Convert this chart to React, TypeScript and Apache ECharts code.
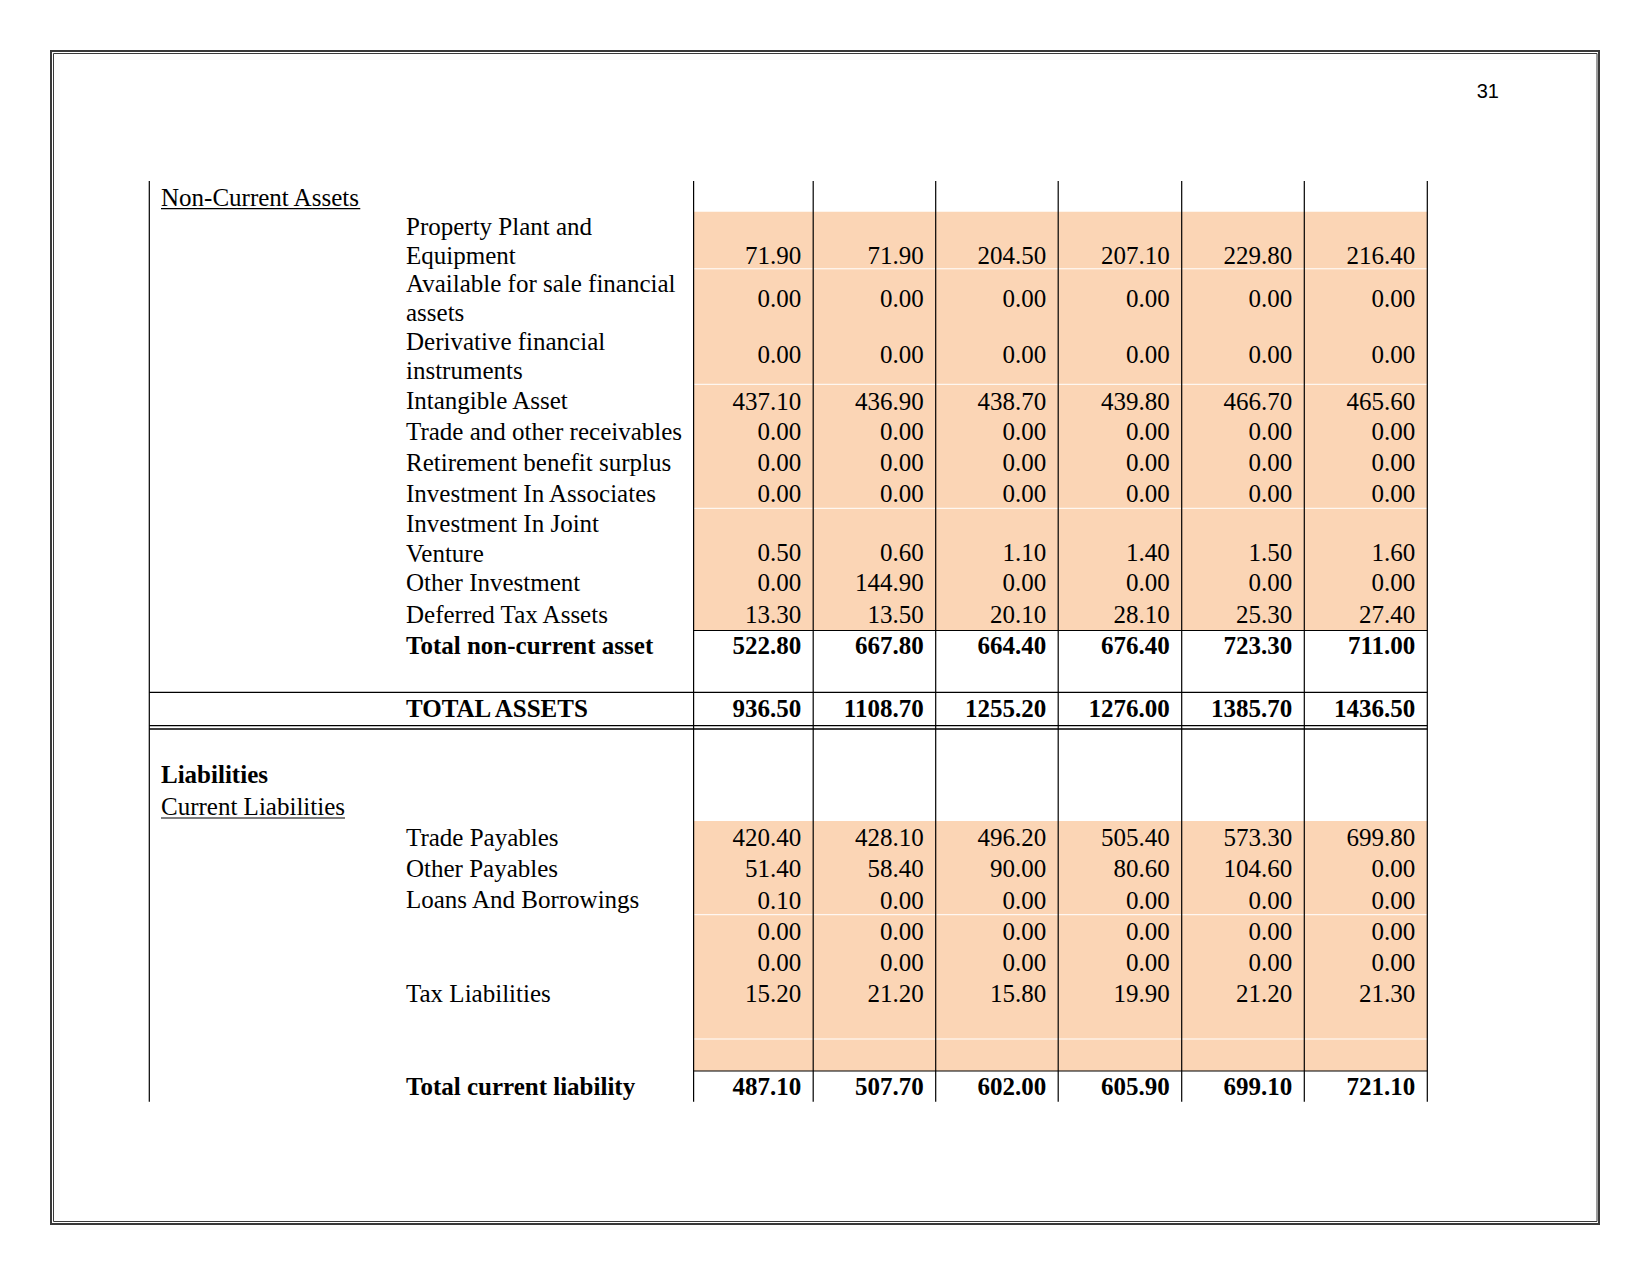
import React, { useEffect, useRef } from "react";
import * as echarts from "echarts";

const W = 1650;
const H = 1275;

// ---------------- data ----------------
const propertyPlant = [71.9, 71.9, 204.5, 207.1, 229.8, 216.4];
const availableForSale = [0, 0, 0, 0, 0, 0];
const derivativeInstruments = [0, 0, 0, 0, 0, 0];
const intangibleAsset = [437.1, 436.9, 438.7, 439.8, 466.7, 465.6];
const tradeReceivables = [0, 0, 0, 0, 0, 0];
const retirementSurplus = [0, 0, 0, 0, 0, 0];
const investAssociates = [0, 0, 0, 0, 0, 0];
const investJointVenture = [0.5, 0.6, 1.1, 1.4, 1.5, 1.6];
const otherInvestment = [0, 144.9, 0, 0, 0, 0];
const deferredTaxAssets = [13.3, 13.5, 20.1, 28.1, 25.3, 27.4];
const totalNonCurrent = [522.8, 667.8, 664.4, 676.4, 723.3, 711.0];
const totalAssets = [936.5, 1108.7, 1255.2, 1276.0, 1385.7, 1436.5];
const tradePayables = [420.4, 428.1, 496.2, 505.4, 573.3, 699.8];
const otherPayables = [51.4, 58.4, 90.0, 80.6, 104.6, 0];
const loansBorrowings = [0.1, 0, 0, 0, 0, 0];
const unnamedLine1 = [0, 0, 0, 0, 0, 0];
const unnamedLine2 = [0, 0, 0, 0, 0, 0];
const taxLiabilities = [15.2, 21.2, 15.8, 19.9, 21.2, 21.3];
const totalCurrentLiab = [487.1, 507.7, 602.0, 605.9, 699.1, 721.1];

const rowLabels: string[][] = [
  ["Property Plant and", "Equipment"],
  ["Available for sale financial", "assets"],
  ["Derivative financial", "instruments"],
  ["Intangible Asset"],
  ["Trade and other receivables"],
  ["Retirement benefit surplus"],
  ["Investment In Associates"],
  ["Investment In Joint", "Venture"],
  ["Other Investment"],
  ["Deferred Tax Assets"],
  ["Total non-current asset"],
  ["TOTAL ASSETS"],
  ["Trade Payables"],
  ["Other Payables"],
  ["Loans And Borrowings"],
  [],
  [],
  ["Tax Liabilities"],
  ["Total current liability"],
];
const rowValues: number[][] = [
  propertyPlant, availableForSale, derivativeInstruments, intangibleAsset,
  tradeReceivables, retirementSurplus, investAssociates, investJointVenture,
  otherInvestment, deferredTaxAssets, totalNonCurrent, totalAssets,
  tradePayables, otherPayables, loansBorrowings, unnamedLine1, unnamedLine2,
  taxLiabilities, totalCurrentLiab,
];
const boldRows = ["Total non-current asset", "TOTAL ASSETS", "Total current liability"];
const sectionHeads = ["Non-Current Assets", "Liabilities", "Current Liabilities"];
const pageNumber = "31";

// ---------------- layout (positions only) ----------------
const COL_EDGES = [693.6, 813.2, 935.7, 1058.2, 1181.7, 1304.3, 1427.3];
const TABLE_LEFT = 149.3;
const TABLE_TOP = 181;
const TABLE_BOTTOM = 1101.7;
const VALUE_PAD = 12;
const LABEL_X = 406;
const HEAD_X = 161;
const rowLineBase: number[][] = [
  [235, 264], [292, 321], [350, 379], [408.5], [440], [471], [501.7],
  [531.7, 561.7], [590.5], [622.5], [653.5], [716.7], [845.5], [876.8], [908.3],
  [], [], [1001.5], [1095],
];
const rowValueBase = [
  264, 306.5, 363.3, 409.5, 439.8, 470.5, 501.7, 560.5, 591, 623, 653.5, 716.7,
  845.5, 877.3, 908.7, 939.5, 970.7, 1001.7, 1095,
];
const headBase = [205.7, 782.7, 815];
const headStyle = [
  { bold: false, underline: true },
  { bold: true, underline: false },
  { bold: false, underline: true },
];
const shadeBands = [
  [211.7, 630.5],
  [821, 1071],
];
const whiteSeps = [268.8, 384.3, 508.3, 914.7, 1039];

const FONT_FAMILY = "'Liberation Serif', 'Times New Roman', serif";
const FS = 25;
const CENTRAL = 8.4; // alphabetic baseline -> central baseline offset
const SHADE = "#FBD5B5";

function measure(text: string, bold: boolean) {
  const c = document.createElement("canvas").getContext("2d");
  if (!c) return text.length * 11;
  c.font = `${bold ? "bold " : ""}${FS}px ${FONT_FAMILY}`;
  return c.measureText(text).width;
}

export default function App() {
  const ref = useRef<HTMLDivElement>(null);
  useEffect(() => {
    if (!ref.current) return;
    const chart = echarts.init(ref.current, undefined, { renderer: "svg" });

    const cellData: number[][] = [];
    rowValues.forEach((vals, r) => vals.forEach((v, c) => cellData.push([c, r, v])));

    type LabelItem = { text: string; x: number; y: number; bold: boolean; underline: boolean };
    const labelItems: LabelItem[] = [];
    rowLabels.forEach((lines, r) =>
      lines.forEach((t, li) =>
        labelItems.push({ text: t, x: LABEL_X, y: rowLineBase[r][li], bold: boldRows.includes(t), underline: false })
      )
    );
    sectionHeads.forEach((t, i) =>
      labelItems.push({ text: t, x: HEAD_X, y: headBase[i], bold: headStyle[i].bold, underline: headStyle[i].underline })
    );

    const graphics: any[] = [];
    // page frame (double line)
    graphics.push({
      type: "rect", z: 1,
      shape: { x: 51, y: 51, width: 1548, height: 1173 },
      style: { fill: "none", stroke: "#3a3a3a", lineWidth: 2 },
    });
    graphics.push({
      type: "rect", z: 1,
      shape: { x: 53.5, y: 53.5, width: 1543.5, height: 1168 },
      style: { fill: "none", stroke: "#3a3a3a", lineWidth: 1 },
    });
    graphics.push({
      type: "text", z: 5, x: 1499, y: 97.5 - 7,
      style: { text: pageNumber, font: "20px 'Liberation Sans', Arial, sans-serif", fill: "#000", align: "right", verticalAlign: "middle" },
    });
    // shading
    shadeBands.forEach(([y0, y1]) =>
      graphics.push({
        type: "rect", z: 1,
        shape: { x: COL_EDGES[0], y: y0, width: COL_EDGES[COL_EDGES.length - 1] - COL_EDGES[0], height: y1 - y0 },
        style: { fill: SHADE },
      })
    );
    whiteSeps.forEach((y) =>
      graphics.push({
        type: "line", z: 2,
        shape: { x1: COL_EDGES[0], y1: y, x2: COL_EDGES[COL_EDGES.length - 1], y2: y },
        style: { stroke: "#ffffff", lineWidth: 1 },
      })
    );
    // vertical rules
    [TABLE_LEFT, ...COL_EDGES].forEach((x) =>
      graphics.push({
        type: "line", z: 3,
        shape: { x1: x, y1: TABLE_TOP, x2: x, y2: TABLE_BOTTOM },
        style: { stroke: "#000", lineWidth: 1.2 },
      })
    );
    const right = COL_EDGES[COL_EDGES.length - 1];
    const hRules = [
      { x1: COL_EDGES[0], y: 630.5, w: 1.2 },
      { x1: TABLE_LEFT, y: 692.3, w: 1.2 },
      { x1: TABLE_LEFT, y: 725.6, w: 1.4 },
      { x1: TABLE_LEFT, y: 729.0, w: 1.4 },
      { x1: COL_EDGES[0], y: 1071, w: 1.2 },
    ];
    hRules.forEach((h) =>
      graphics.push({
        type: "line", z: 3,
        shape: { x1: h.x1, y1: h.y, x2: right, y2: h.y },
        style: { stroke: "#000", lineWidth: h.w },
      })
    );

    chart.setOption({
      animation: false,
      backgroundColor: "#ffffff",
      grid: { left: 0, right: 0, top: 0, bottom: 0, containLabel: false },
      xAxis: { type: "value", min: 0, max: W, show: false },
      yAxis: { type: "value", min: 0, max: H, inverse: true, show: false },
      graphic: graphics,
      series: [
        {
          type: "custom",
          z: 10,
          silent: true,
          data: cellData,
          encode: { x: 0, y: 1 },
          renderItem: (params: any, api: any) => {
            const c = api.value(0);
            const r = api.value(1);
            const v = api.value(2);
            const bold = boldRows.includes(rowLabels[r][0]);
            const pt = api.coord([COL_EDGES[c + 1] - VALUE_PAD, rowValueBase[r] - CENTRAL]);
            return {
              type: "text",
              x: pt[0],
              y: pt[1],
              style: {
                text: Number(v).toFixed(2),
                font: `${bold ? "bold " : ""}${FS}px ${FONT_FAMILY}`,
                fill: "#000",
                align: "right",
                verticalAlign: "middle",
              },
            };
          },
        },
        {
          type: "custom",
          z: 10,
          silent: true,
          data: labelItems.map((it) => [it.x, it.y]),
          encode: { x: 0, y: 1 },
          renderItem: (params: any, api: any) => {
            const it = labelItems[params.dataIndex];
            const pt = api.coord([api.value(0), api.value(1) - CENTRAL]);
            const base = api.coord([api.value(0), api.value(1)]);
            const font = `${it.bold ? "bold " : ""}${FS}px ${FONT_FAMILY}`;
            const children: any[] = [
              {
                type: "text",
                x: pt[0],
                y: pt[1],
                style: { text: it.text, font, fill: "#000", align: "left", verticalAlign: "middle" },
              },
            ];
            if (it.underline) {
              const w = measure(it.text, it.bold);
              children.push({
                type: "line",
                shape: { x1: base[0], y1: base[1] + 3, x2: base[0] + w, y2: base[1] + 3 },
                style: { stroke: "#000", lineWidth: 1.2 },
              });
            }
            return { type: "group", children };
          },
        },
      ],
    });
    return () => chart.dispose();
  }, []);
  return (
    <div
      ref={ref}
      style={{ position: "absolute", left: 0, top: 0, width: W, height: H, background: "#fff" }}
    />
  );
}
